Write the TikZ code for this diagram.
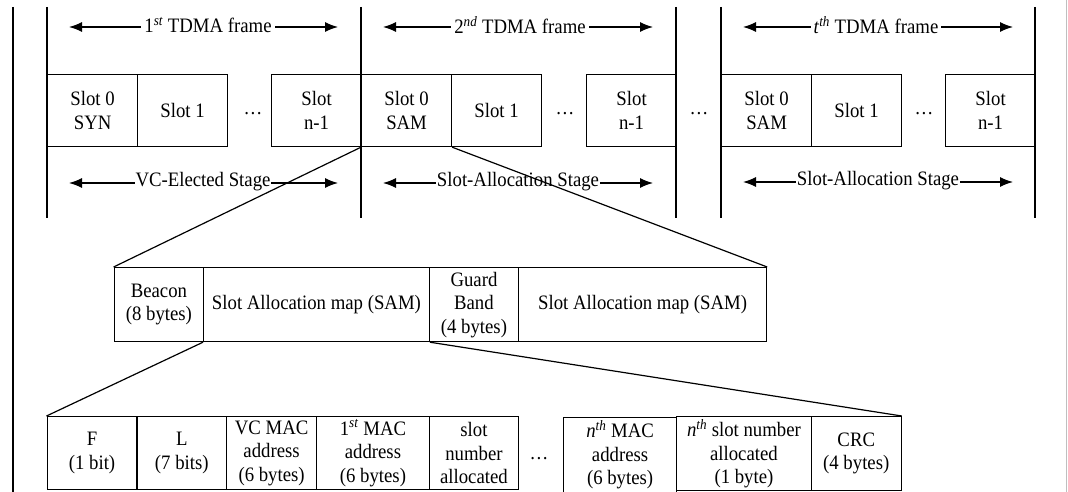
\documentclass[tikz,border=0pt]{standalone}
\usepackage{fontspec}
\setmainfont{Liberation Serif}[FakeStretch=0.915]
\usetikzlibrary{arrows.meta}
\begin{document}
\begin{tikzpicture}[x=1pt,y=-1pt,
  every node/.style={font=\fontsize{20.5}{23.5}\selectfont},
  box/.style={draw, line width=1.2pt, inner sep=0pt, align=center, anchor=north west},
  frameline/.style={line width=1.3pt},
  dim/.style={line width=1.2pt, {Latex[length=13pt,width=10pt]}-{Latex[length=13pt,width=10pt]}},
  lbl/.style={fill=white, inner sep=1pt},
  link/.style={line width=1.2pt},
  dotsnode/.style={anchor=base, inner sep=0pt}]
\useasboundingbox (0,0) rectangle (1068,492);
% outer border lines
\coordinate (bl1) at (12.5,7);
\coordinate (bl2) at (12.5,492);
\draw[line width=2pt] (bl1) -- (bl2);
\coordinate (br1) at (1066,0);
\coordinate (br2) at (1066,492);
\draw[gray!50, line width=1pt] (br1) -- (br2);
% frame separators
\foreach \x/\n in {47/a,361/b,676/c,721/d,1035/e}{
  \coordinate (v\n1) at (\x,7);
  \coordinate (v\n2) at (\x,218);
  \draw[frameline] (v\n1) -- (v\n2);
}
% frame 1
\node[box, minimum width=90pt, minimum height=72pt] (f1s0) at (47,74) {Slot 0\\SYN};
\node[box, minimum width=90pt, minimum height=72pt] (f1s1) at (137,74) {Slot 1};
\node[dotsnode] (f1d) at (253,115) {…};
\node[box, minimum width=90pt, minimum height=72pt] (f1sn) at (271,74) {Slot\\n-1};
% frame 2
\node[box, minimum width=90pt, minimum height=72pt] (f2s0) at (361,74) {Slot 0\\SAM};
\node[box, minimum width=90pt, minimum height=72pt] (f2s1) at (451,74) {Slot 1};
\node[dotsnode] (f2d) at (565,115) {…};
\node[box, minimum width=90pt, minimum height=72pt] (f2sn) at (586,74) {Slot\\n-1};
\node[dotsnode] (fmd) at (699,115) {…};
% frame t
\node[box, minimum width=90pt, minimum height=72pt] (fts0) at (721,74) {Slot 0\\SAM};
\node[box, minimum width=90pt, minimum height=72pt] (fts1) at (811,74) {Slot 1};
\node[dotsnode] (ftd) at (924,115) {…};
\node[box, minimum width=90pt, minimum height=72pt] (ftsn) at (945,74) {Slot\\n-1};
% frame arrows
\coordinate (t1a) at (69,27);  \coordinate (t1b) at (338,27);
\coordinate (t2a) at (383,27); \coordinate (t2b) at (653,27);
\coordinate (t3a) at (743,27); \coordinate (t3b) at (1013,27);
\draw[dim] (t1a) -- (t1b);
\draw[dim] (t2a) -- (t2b);
\draw[dim] (t3a) -- (t3b);
\node[lbl, inner xsep=3pt] (t1) at (208,25) {1\textsuperscript{\textit{st}} TDMA frame};
\node[lbl, inner xsep=3pt] (t2) at (520,25) {2\textsuperscript{\textit{nd}} TDMA frame};
\node[lbl, inner xsep=3pt] (t3) at (876,25) {\textit{t}\textsuperscript{\textit{th}} TDMA frame};
% stage arrows
\coordinate (s1a) at (69,183);  \coordinate (s1b) at (338,183);
\coordinate (s2a) at (383,183); \coordinate (s2b) at (653,183);
\coordinate (s3a) at (743,182); \coordinate (s3b) at (1013,182);
\draw[dim] (s1a) -- (s1b);
\draw[dim] (s2a) -- (s2b);
\draw[dim] (s3a) -- (s3b);
\node[lbl] (s1) at (203,182) {VC-Elected Stage};
\node[lbl] (s2) at (518,182) {Slot-Allocation Stage};
\node[lbl] (s3) at (878,181) {Slot-Allocation Stage};
% middle row
\node[box, minimum width=89.4pt, minimum height=74pt] (beacon) at (113.6,267) {Beacon\\(8 bytes)};
\node[box, minimum width=225.7pt, minimum height=74pt] (sam1) at (203,267) {Slot Allocation map (SAM)};
\node[box, minimum width=89.3pt, minimum height=74pt] (guard) at (428.7,267) {Guard\\Band\\(4 bytes)};
\node[box, minimum width=248pt, minimum height=74pt] (sam2) at (518,267) {Slot Allocation map (SAM)};
% bottom row
\node[box, minimum width=89.9pt, minimum height=73pt] (fF) at (46.5,416) {F\\(1 bit)};
\node[box, minimum width=89.6pt, minimum height=73pt] (fL) at (136.4,416) {L\\(7 bits)};
\node[box, minimum width=90pt, minimum height=73pt] (fvc) at (226,416) {VC MAC\\address\\(6 bytes)};
\node[box, minimum width=112.7pt, minimum height=73pt] (f1m) at (316,416) {1\textsuperscript{\textit{st}} MAC\\address\\(6 bytes)};
\node[box, minimum width=89.3pt, minimum height=73pt] (fsn) at (428.7,416) {slot\\number\\allocated};
\node[dotsnode] (fbd) at (539,459) {…};
\node[box, minimum width=113pt, minimum height=74.5pt] (fnm) at (563,417) {\textit{n}\textsuperscript{\textit{th}} MAC\\address\\(6 bytes)};
\node[box, minimum width=134.7pt, minimum height=74pt] (fns) at (676,416) {\textit{n}\textsuperscript{\textit{th}} slot number\\allocated\\(1 byte)};
\node[box, minimum width=89.9pt, minimum height=74pt] (crc) at (810.7,416) {CRC\\(4 bytes)};
% zoom connectors
\draw[link] (f2s0.south west) -- (beacon.north west);
\draw[link] (f2s0.south east) -- (sam2.north east);
\draw[link] (sam1.south west) -- (fF.north west);
\draw[link] (sam1.south east) -- (crc.north east);
\end{tikzpicture}
\end{document}
